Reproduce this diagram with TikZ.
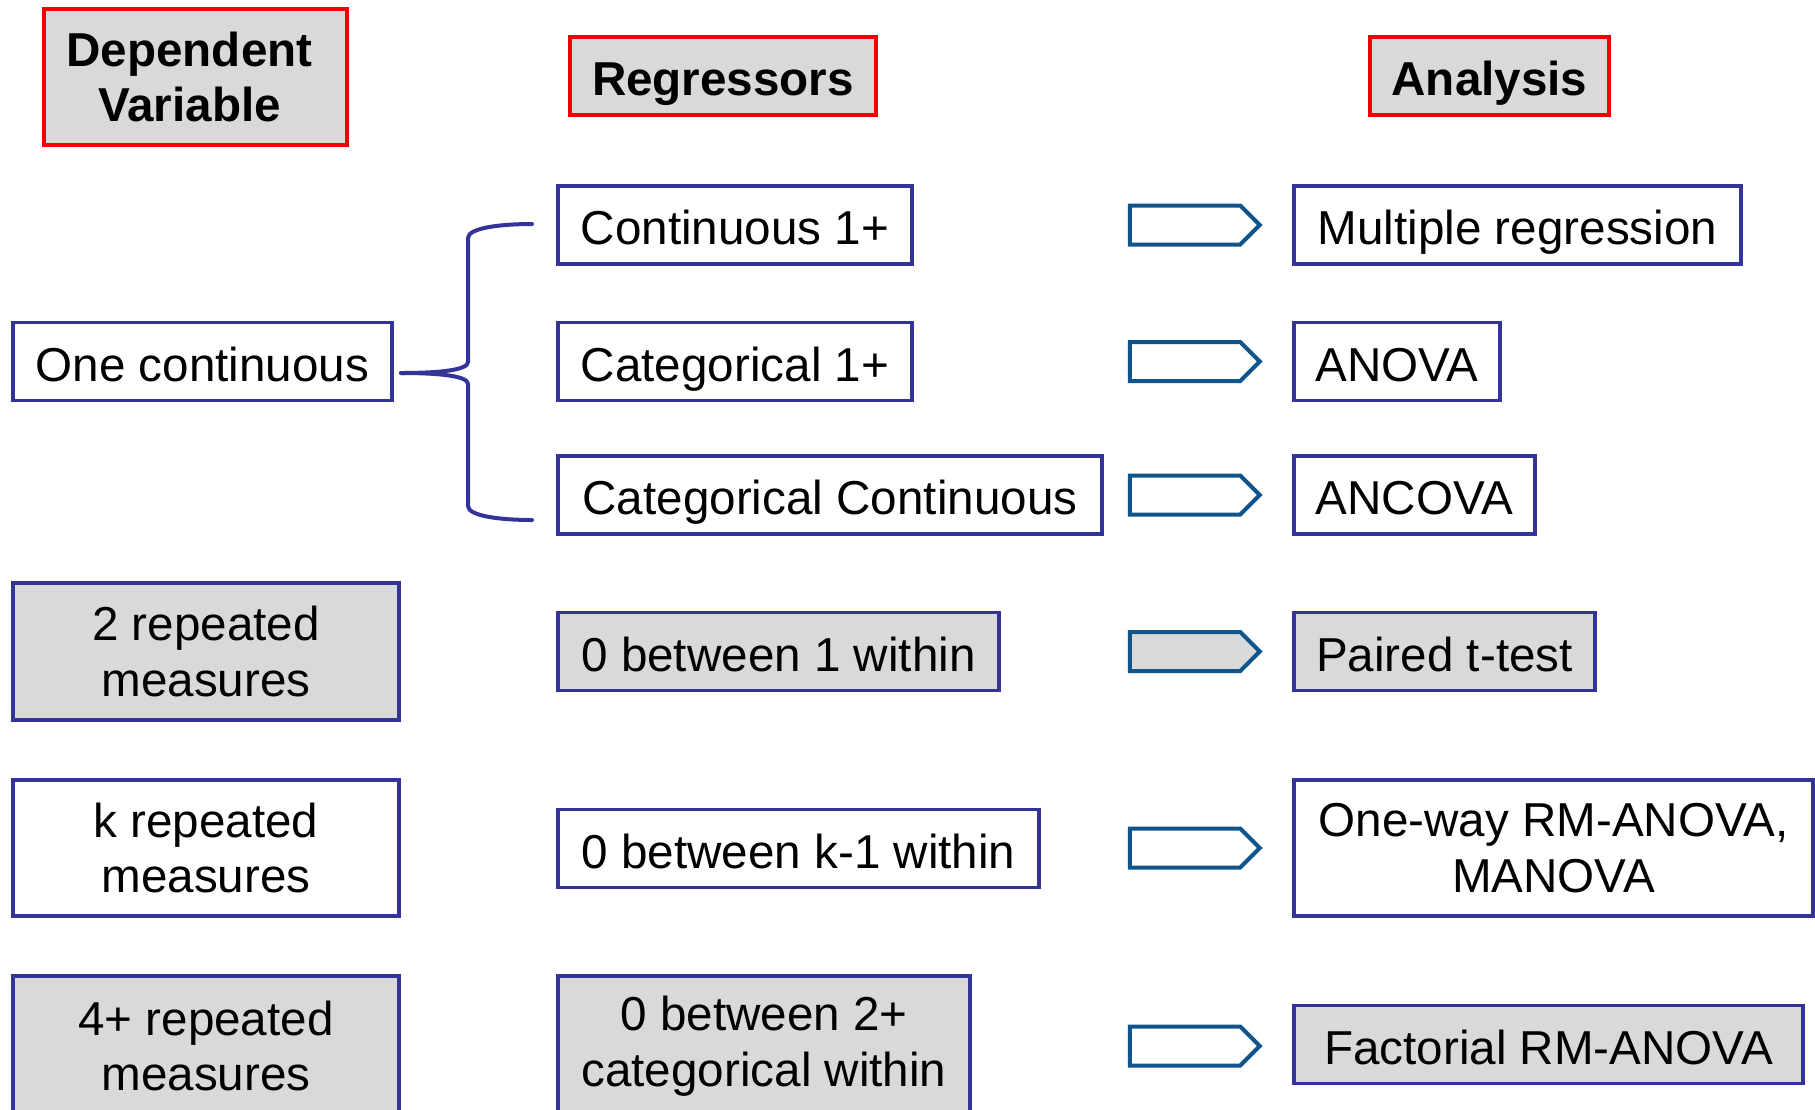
\documentclass[tikz,border=0pt]{standalone}
\usepackage{fontspec}
\setmainfont{Liberation Sans}
\usetikzlibrary{shapes.symbols}
\definecolor{boxblue}{RGB}{51,51,153}
\definecolor{boxgray}{RGB}{217,217,217}
\definecolor{hdrred}{RGB}{240,0,0}
\definecolor{arrblue}{RGB}{16,84,140}
\begin{document}
\begin{tikzpicture}[x=0.5pt,y=-0.5pt,
 every node/.style={font=\fontsize{23.8}{27.8}\selectfont, inner sep=0pt, align=center},
 bluebox/.style={draw=boxblue, fill=white, line width=1.75pt, minimum height=39pt},
 graybox/.style={bluebox, fill=boxgray},
 hdr/.style={draw=hdrred, fill=boxgray, line width=2pt, font=\fontsize{23.8}{27.8}\selectfont\bfseries, minimum height=39pt},
 oneline/.style={text height=20pt, text depth=0.4pt},
 arr/.style={signal, signal to=east, draw=arrblue, fill=white, line width=2pt, minimum width=65pt, minimum height=19.5pt, inner sep=0pt},
 brace/.style={draw=boxblue, line width=2pt, line cap=round, line join=round},
]
\clip (0,0) rectangle (1815,1109);
\fill[white] (0,0) rectangle (1815,1109);

% headers
\node[hdr, minimum width=151.5pt, minimum height=68pt] (dep) at (195.5,77) {Dependent\hspace*{6pt}\\Variable\hspace*{6pt}};
\node[hdr, oneline, minimum width=153pt] (reg) at (723,76) {Regressors};
\node[hdr, oneline, minimum width=119.5pt] (ana) at (1489.5,76) {Analysis};

% dependent variable column
\node[bluebox, oneline, minimum width=189.5pt] (onec) at (202.5,361.5) {One continuous};
\node[graybox, minimum width=193pt, minimum height=68.5pt] (rep2) at (206,651.5) {2 repeated\\measures};
\node[bluebox, minimum width=193pt, minimum height=68pt] (repk) at (206,848) {k repeated\\measures};
\node[graybox, minimum width=193pt, minimum height=70pt] (rep4) at (206,1046) {4+ repeated\\measures};

% regressors column
\node[bluebox, oneline, minimum width=177pt] (c1) at (735,225) {Continuous 1+};
\node[bluebox, oneline, minimum width=177pt] (cat1) at (735,361.5) {Categorical 1+};
\node[bluebox, oneline, minimum width=272pt] (catc) at (830,495) {Categorical Continuous};
\node[graybox, oneline, minimum width=220.5pt] (b1w) at (778.5,651.5) {0 between 1 within};
\node[bluebox, oneline, minimum width=240.5pt] (bk1) at (798.5,848.5) {0 between k-1 within};
\node[graybox, minimum width=206pt, minimum height=70pt] (b2c) at (764,1046) {0 between 2+\\categorical within};

% arrows
\node[arr] (a1) at (1185,225) {};
\node[arr] (a2) at (1185,361.5) {};
\node[arr] (a3) at (1185,495) {};
\node[arr, fill=boxgray] (a4) at (1185,651.5) {};
\node[arr] (a5) at (1185,848) {};
\node[arr] (a6) at (1185,1046) {};

% analysis column
\node[bluebox, oneline, minimum width=223.5pt] (mr) at (1517.5,225) {Multiple regression};
\node[bluebox, oneline, minimum width=103pt] (anova) at (1397,361.5) {ANOVA};
\node[bluebox, oneline, minimum width=120.5pt] (ancova) at (1414.5,495) {ANCOVA};
\node[graybox, oneline, minimum width=150.5pt] (ptt) at (1444.5,651.5) {Paired t-test};
\node[bluebox, minimum width=259.5pt, minimum height=68pt] (ow) at (1553.5,848) {One-way RM-ANOVA,\\MANOVA};
\node[graybox, oneline, minimum width=254.5pt] (fac) at (1548.5,1044.5) {Factorial RM-ANOVA};

% brace
\coordinate (tip) at (401,373);
\coordinate (btop) at (532,224);
\coordinate (bbot) at (532,520);
\draw[brace] (tip) .. controls (440,373) and (468,370) .. (468,362)
  -- (468,238) .. controls (468,228) and (500,224) .. (btop);
\draw[brace] (tip) .. controls (440,373) and (468,376) .. (468,384)
  -- (468,506) .. controls (468,516) and (500,520) .. (bbot);
\end{tikzpicture}
\end{document}
